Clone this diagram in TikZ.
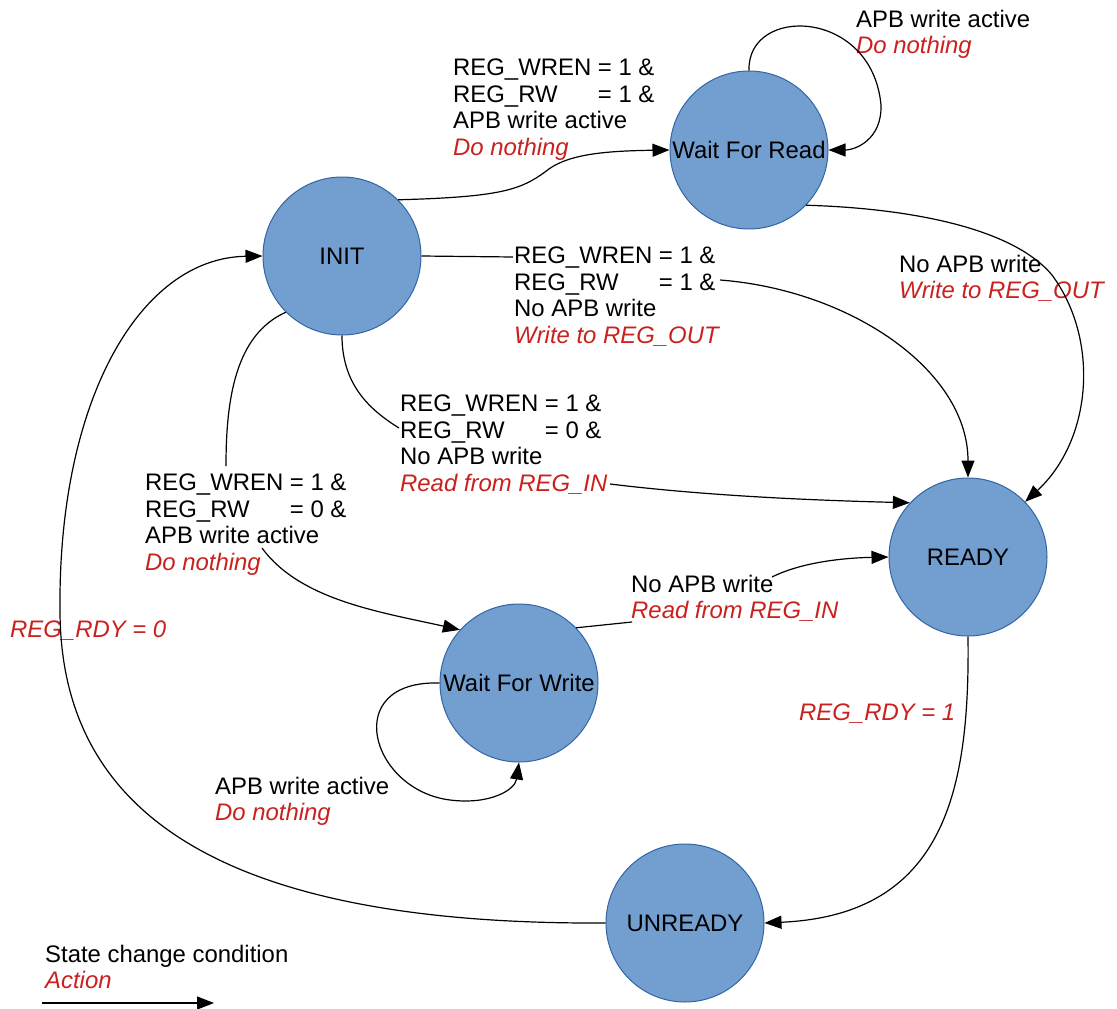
\documentclass[tikz,border=0pt]{standalone}
\usepackage{fontspec}
\setmainfont{Liberation Sans}
\usetikzlibrary{arrows.meta}
\definecolor{actred}{HTML}{C9211E}
\definecolor{stfill}{HTML}{729FCF}
\definecolor{stdraw}{HTML}{3465A4}
\newcommand\act[1]{{\color{actred}\itshape #1}}
\newcommand\rwline[1]{\rlap{REG\_RW}\phantom{REG\_WREN\ }= #1 \&}
\begin{document}
\begin{tikzpicture}[x=1pt,y=-1pt,
  font=\fontsize{23.9}{26.7}\selectfont,
  state/.style={circle, fill=stfill, draw=stdraw, line width=1pt, minimum size=158pt, inner sep=0pt},
  lab/.style={anchor=north west, align=left, inner sep=0pt},
  conn/.style={line width=1.2pt, -{Triangle[length=17pt,width=13pt]}},
  plain/.style={line width=1.2pt}]
\useasboundingbox (0,0) rectangle (1117,1009);

% states
\node[state] (INIT) at (342,256) {INIT};
\node[state] (WFR) at (749,150) {Wait For Read};
\node[state] (READY) at (968,557) {READY};
\node[state] (WFW) at (519,683) {Wait For Write};
\node[state] (UNR) at (685,923) {UNREADY};

% labels
\node[lab] (lA) at (453,58.5) {REG\_WREN = 1 \&\\\rwline{1}\\APB write active\\\act{Do nothing}};
\node[lab] (lB) at (856,9.5) {APB write active\\\act{Do nothing}};
\node[lab] (lC) at (899,254.5) {No APB write\\\act{Write to REG\_OUT}};
\node[lab] (lD) at (514,246.5) {REG\_WREN = 1 \&\\\rwline{1}\\No APB write\\\act{Write to REG\_OUT}};
\node[lab] (lE) at (400,394.5) {REG\_WREN = 1 \&\\\rwline{0}\\No APB write\\\act{Read from REG\_IN}};
\node[lab] (lF) at (145,473.5) {REG\_WREN = 1 \&\\\rwline{0}\\APB write active\\\act{Do nothing}};
\node[lab] (lG) at (631,574.5) {No APB write\\\act{Read from REG\_IN}};
\node[lab] (lH) at (215,776.5) {APB write active\\\act{Do nothing}};
\node[lab] (lI) at (799,703.5) {\act{REG\_RDY = 1}};
\node[lab] (lJ) at (10,620.5) {\act{REG\_RDY = 0}};
\node[lab] (lK) at (45,944.5) {State change condition\\\act{Action}};

% attachment points on labels
\coordinate (dIn) at (513,257);
\coordinate (dOut) at (720,280);
\coordinate (eIn) at (399,428);
\coordinate (eOut) at (610,484);
\coordinate (fIn) at (226,466);
\coordinate (fOut) at (262,548);
\coordinate (gIn) at (632,622);
\coordinate (gOut) at (772,577);
\coordinate (kA) at (42,1003);
\coordinate (kB) at (214,1003);

% connectors
\draw[conn] (INIT.45) .. controls (500,197) and (520,190) .. (545,172)
  .. controls (565,155) and (600,151) .. (WFR.west);
\draw[conn] (WFR.north) .. controls (747,5) and (872,8) .. (881,105)
  .. controls (882,140) and (855,150) .. (WFR.east);
\draw[conn] (WFR.-44) .. controls (900,208) and (1010,225) .. (1052,275)
  .. controls (1100,340) and (1092,440) .. (READY.44);
\draw[plain] (INIT.east) -- (dIn);
\draw[conn] (dOut) .. controls (850,290) and (968,370) .. (READY.north);
\draw[plain] (INIT.south) .. controls (342,385) and (370,410) .. (eIn);
\draw[conn] (eOut) .. controls (700,495) and (800,500) .. (READY.137);
\draw[plain] (INIT.225) .. controls (235,335) and (226,400) .. (fIn);
\draw[conn] (fOut) .. controls (300,600) and (380,612) .. (WFW.138);
\draw[plain] (WFW.44) -- (gIn);
\draw[conn] (gOut) .. controls (800,563) and (840,558) .. (READY.west);
\draw[conn] (WFW.west) .. controls (340,680) and (370,790) .. (450,800)
  .. controls (490,805) and (515,790) .. (WFW.south);
\draw[conn] (READY.south) .. controls (970,790) and (945,915) .. (UNR.east);
\draw[conn] (UNR.west) .. controls (250,925) and (60,830) .. (60,610)
  .. controls (58,400) and (140,258) .. (INIT.west);
\draw[conn] (kA) -- (kB);
\end{tikzpicture}
\end{document}
